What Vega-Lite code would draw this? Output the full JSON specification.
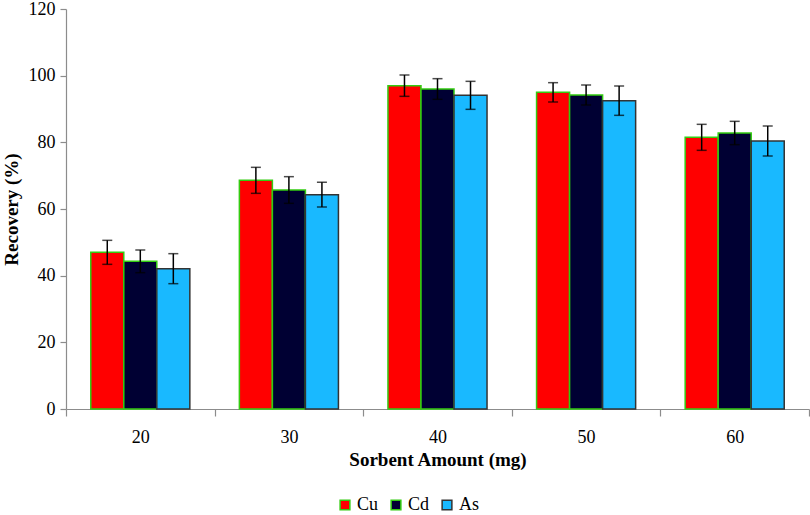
{
  "$schema": "https://vega.github.io/schema/vega-lite/v6.json",
  "width": 743,
  "height": 400,
  "autosize": "none",
  "padding": {"left": 66, "top": 9, "right": 1, "bottom": 106},
  "background": "white",
  "config": {
    "view": {"stroke": null},
    "font": "Liberation Serif",
    "axis": {
      "grid": false,
      "domainColor": "#8c8c8c",
      "tickColor": "#8c8c8c",
      "domainWidth": 1.2,
      "tickWidth": 1.2,
      "labelFont": "Liberation Serif",
      "labelFontSize": 18,
      "labelColor": "#000000",
      "titleFont": "Liberation Serif",
      "titleFontSize": 19,
      "titleFontWeight": "bold",
      "titleColor": "#000000"
    },
    "legend": {
      "labelFont": "Liberation Serif",
      "labelFontSize": 18,
      "labelColor": "#000000"
    }
  },
  "data": {
    "values": [
      {"amount": "20", "element": "Cu", "recovery": 47.0, "lo": 43.4, "hi": 50.6},
      {"amount": "20", "element": "Cd", "recovery": 44.3, "lo": 40.9, "hi": 47.7},
      {"amount": "20", "element": "As", "recovery": 42.1, "lo": 37.6, "hi": 46.6},
      {"amount": "30", "element": "Cu", "recovery": 68.6, "lo": 64.7, "hi": 72.5},
      {"amount": "30", "element": "Cd", "recovery": 65.7, "lo": 61.7, "hi": 69.7},
      {"amount": "30", "element": "As", "recovery": 64.3, "lo": 60.6, "hi": 68.0},
      {"amount": "40", "element": "Cu", "recovery": 97.0, "lo": 93.8, "hi": 100.2},
      {"amount": "40", "element": "Cd", "recovery": 96.0, "lo": 92.9, "hi": 99.1},
      {"amount": "40", "element": "As", "recovery": 94.1, "lo": 89.9, "hi": 98.3},
      {"amount": "50", "element": "Cu", "recovery": 95.0, "lo": 92.1, "hi": 97.9},
      {"amount": "50", "element": "Cd", "recovery": 94.2, "lo": 91.2, "hi": 97.2},
      {"amount": "50", "element": "As", "recovery": 92.5, "lo": 88.1, "hi": 96.9},
      {"amount": "60", "element": "Cu", "recovery": 81.5, "lo": 77.6, "hi": 85.4},
      {"amount": "60", "element": "Cd", "recovery": 82.8, "lo": 79.3, "hi": 86.3},
      {"amount": "60", "element": "As", "recovery": 80.4, "lo": 75.9, "hi": 84.9}
    ]
  },
  "encoding": {
    "x": {
      "field": "amount",
      "type": "nominal",
      "sort": ["20", "30", "40", "50", "60"],
      "scale": {"paddingInner": 0, "paddingOuter": 0},
      "axis": {
        "title": "Sorbent Amount (mg)",
        "labelAngle": 0,
        "tickBand": "extent",
        "tickSize": 7,
        "labelPadding": 12,
        "titlePadding": 4
      }
    },
    "xOffset": {
      "field": "element",
      "type": "nominal",
      "sort": ["Cu", "Cd", "As"],
      "scale": {"paddingInner": 0, "paddingOuter": 0.75}
    }
  },
  "layer": [
    {
      "mark": {"type": "bar", "strokeWidth": 1.5},
      "encoding": {
        "y": {
          "field": "recovery",
          "type": "quantitative",
          "scale": {"domain": [0, 120], "nice": false},
          "axis": {
            "title": "Recovery (%)",
            "values": [0, 20, 40, 60, 80, 100, 120],
            "tickSize": 6,
            "labelPadding": 5,
            "titlePadding": 7
          }
        },
        "color": {
          "field": "element",
          "type": "nominal",
          "sort": ["Cu", "Cd", "As"],
          "scale": {"domain": ["Cu", "Cd", "As"], "range": ["#ff0000", "#000033", "#19b9ff"]},
          "legend": {
            "title": null,
            "orient": "none",
            "direction": "horizontal",
            "legendX": 270,
            "legendY": 487,
            "symbolType": "square",
            "symbolSize": 95,
            "symbolStrokeWidth": 1.5,
            "symbolOpacity": 1,
            "columnPadding": 8,
            "labelOffset": 3
          }
        },
        "stroke": {
          "field": "element",
          "type": "nominal",
          "sort": ["Cu", "Cd", "As"],
          "scale": {"domain": ["Cu", "Cd", "As"], "range": ["#33cc11", "#33cc11", "#333333"]},
          "legend": {
            "title": null,
            "orient": "none",
            "direction": "horizontal",
            "legendX": 270,
            "legendY": 487,
            "symbolType": "square",
            "symbolSize": 95,
            "symbolStrokeWidth": 1.5,
            "columnPadding": 8,
            "labelOffset": 3
          }
        }
      }
    },
    {
      "mark": {"type": "rule", "color": "#000000", "strokeWidth": 1.5},
      "encoding": {
        "y": {"field": "lo", "type": "quantitative"},
        "y2": {"field": "hi"}
      }
    },
    {
      "mark": {"type": "tick", "color": "#000000", "thickness": 1.5, "size": 10, "orient": "horizontal"},
      "encoding": {
        "y": {"field": "lo", "type": "quantitative"}
      }
    },
    {
      "mark": {"type": "tick", "color": "#000000", "thickness": 1.5, "size": 10, "orient": "horizontal"},
      "encoding": {
        "y": {"field": "hi", "type": "quantitative"}
      }
    }
  ]
}
